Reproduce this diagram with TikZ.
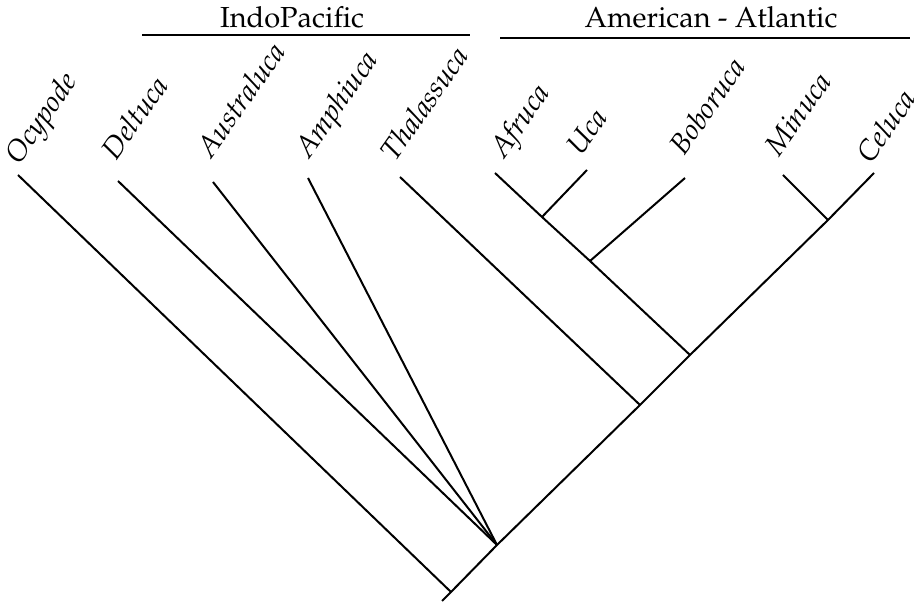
\documentclass[tikz,border=0pt]{standalone}
\usepackage[T1]{fontenc}
\usepackage{mathpazo}
\usetikzlibrary{positioning,calc}

\begin{document}
\begin{tikzpicture}[x=0.5pt,y=-0.5pt,line width=1pt,
	taxon/.style={rotate=55,anchor=base west,inner sep=0pt,font=\fontsize{14.5}{17}\selectfont\itshape},
	region/.style={anchor=base,inner sep=0pt,font=\fontsize{14.5}{17}\selectfont}]
	\useasboundingbox (0,0) rectangle (922,603);
	% tips of the branches
	\coordinate (ocy) at (18,175);
	\coordinate (del) at (118,181);
	\coordinate (aus) at (213,182);
	\coordinate (amp) at (308,178);
	\coordinate (tha) at (400,177);
	\coordinate (afr) at (495,173);
	\coordinate (uca) at (587,170);
	\coordinate (bob) at (685,178);
	\coordinate (min) at (783,175);
	\coordinate (cel) at (874,173);
	% branching points
	\coordinate (root) at (442,601);
	\coordinate (b1) at (451,592);
	\coordinate (b2) at (497,545);
	\coordinate (b3) at (640,405);
	\coordinate (b4) at (690,355);
	\coordinate (b5) at (590,261);
	\coordinate (b6) at (542,217);
	\coordinate (b7) at (828,220);
	% tree
	\draw (root) -- (b1) -- (b2) -- (b3) -- (b4) -- (b7) -- (cel);
	\draw (b1) -- (ocy);
	\draw (b2) -- (del);
	\draw (b2) -- (aus);
	\draw (b2) -- (amp);
	\draw (b3) -- (tha);
	\draw (b4) -- (b5) -- (b6) -- (afr);
	\draw (b6) -- (uca);
	\draw (b5) -- (bob);
	\draw (b7) -- (min);
	% names
	\foreach \t/\dx/\dy/\name in {ocy/1/-9/Ocypode,del/-2/-19/Deltuca,aus/-2/-22/Australuca,
		amp/1/-18/Amphiuca,tha/-5/-14/Thalassuca,afr/9/-13/Afruca,uca/-6/-13/Uca,
		bob/-1/-21/Boboruca,min/-4/-17/Minuca,cel/-3/-8/Celuca}
		\node[taxon] (l-\t) at ($(\t)+(\dx,\dy)$) {\name};
	% regions
	\node[region] (indo) at (292,28) {IndoPacific};
	\draw (142,35) -- (470,35);
	\node[region] (amat) at (711,28) {American - Atlantic};
	\draw (500,38) -- (910,38);
\end{tikzpicture}
\end{document}
